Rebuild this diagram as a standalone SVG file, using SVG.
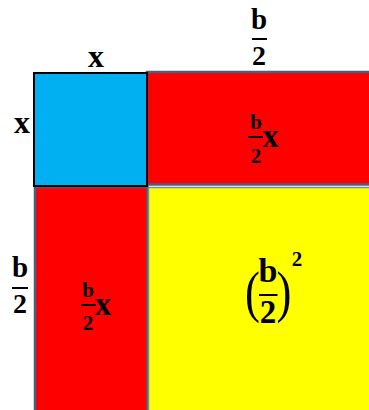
<svg xmlns="http://www.w3.org/2000/svg" width="369" height="410" viewBox="0 0 369 410">
<style>
.t{font-family:"Liberation Serif","DejaVu Serif",serif;font-weight:bold;fill:#000;text-anchor:middle}
.p{font-family:"Liberation Serif","DejaVu Serif",serif;font-weight:normal;fill:#000;text-anchor:middle}
.edge{stroke:#4a6079;stroke-width:2.5}
.bar{stroke:#000;stroke-width:2}
</style>
<rect width="369" height="410" fill="#fff"/>
<g id="red-top">
<rect x="147" y="72" width="225" height="112.5" fill="#ff0000" class="edge"/>
<text class="t" x="256" y="129" font-size="21">b</text>
<line class="bar" x1="248" y1="137" x2="263" y2="137"/>
<text class="t" x="256" y="163" font-size="21">2</text>
<text class="t" x="270.5" y="147" font-size="33">x</text>
</g>
<g id="red-left">
<rect x="35" y="187" width="112.5" height="225" fill="#ff0000" class="edge"/>
<text class="t" x="88" y="297" font-size="21">b</text>
<line class="bar" x1="81" y1="305" x2="96" y2="305"/>
<text class="t" x="88" y="330" font-size="21">2</text>
<text class="t" x="103" y="315" font-size="33">x</text>
</g>
<g id="yellow">
<rect x="148.5" y="187.5" width="223" height="224" fill="#ffff00" stroke="#7a8a9a" stroke-width="1.5"/>
<text class="t" x="268" y="282" font-size="34">b</text>
<line class="bar" x1="259" y1="295" x2="277.5" y2="295" stroke-width="2.5"/>
<text class="t" x="268" y="323" font-size="33">2</text>
<text class="p" transform="translate(252.5,311) scale(0.8,1)" x="0" y="0" font-size="56">(</text>
<text class="p" transform="translate(284,311) scale(0.8,1)" x="0" y="0" font-size="56">)</text>
<text class="t" x="297" y="266" font-size="21">2</text>
</g>
<g id="blue">
<rect x="34" y="73" width="113" height="113" fill="#00b0f0" stroke="#000" stroke-width="2"/>
</g>
<g id="labels">
<text class="t" x="96" y="67" font-size="32">x</text>
<text class="t" x="22" y="133" font-size="32">x</text>
<text class="t" x="259" y="29" font-size="29">b</text>
<line class="bar" x1="252" y1="39" x2="267" y2="39"/>
<text class="t" x="259" y="65" font-size="28">2</text>
<text class="t" x="20" y="277" font-size="29">b</text>
<line class="bar" x1="12" y1="288" x2="28" y2="288"/>
<text class="t" x="20" y="313" font-size="28">2</text>
</g>
</svg>
